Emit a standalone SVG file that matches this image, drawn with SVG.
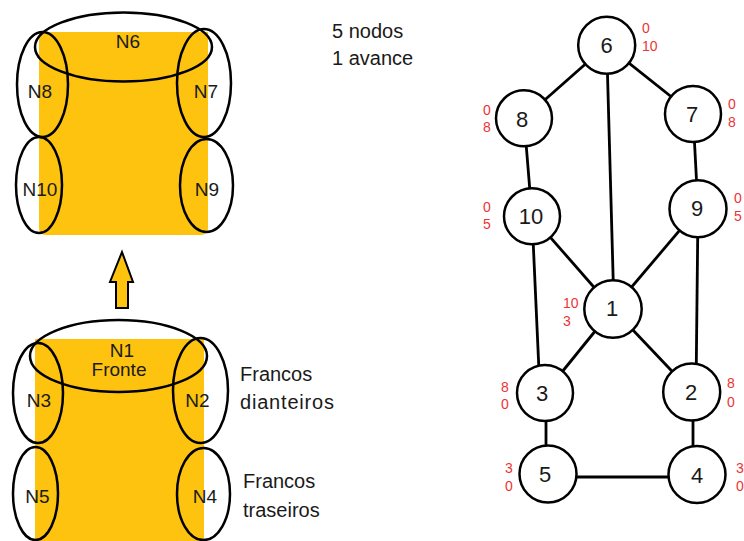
<svg xmlns="http://www.w3.org/2000/svg" width="744" height="541" viewBox="0 0 744 541">
<style>
.ell{fill:none;stroke:#000;stroke-width:2.5}
.lbl{font-family:"Liberation Sans",Arial,sans-serif;font-size:19px;fill:#1a1a1a;text-anchor:middle}
.txt{font-family:"Liberation Sans",Arial,sans-serif;font-size:20px;fill:#1a1a1a}
.gc{fill:#fff;stroke:#000;stroke-width:2.5}
.gl{font-family:"Liberation Sans",Arial,sans-serif;font-size:22px;fill:#1a1a1a;text-anchor:middle}
.ann{font-family:"Liberation Sans",Arial,sans-serif;font-size:14px;fill:#ee3333}
.edge{stroke:#000;stroke-width:2.8;fill:none}
.yel{fill:#fdc30f}
</style>
<rect width="744" height="541" fill="#fff"/>
<!-- top robot -->
<path class="yel" d="M39,32 H208 V228 Q208,235 201,235 H46 Q39,235 39,228 Z"/>
<g id="N6"><ellipse class="ell" cx="123.5" cy="47" rx="88.5" ry="34.5"/><text class="lbl" x="128" y="48">N6</text></g>
<g id="N8"><ellipse class="ell" cx="42.5" cy="84.5" rx="25.5" ry="52.5"/><text class="lbl" x="40" y="98">N8</text></g>
<g id="N7"><ellipse class="ell" cx="204" cy="83" rx="27" ry="54"/><text class="lbl" x="206" y="98">N7</text></g>
<g id="N10"><ellipse class="ell" cx="39" cy="185" rx="23" ry="48"/><text class="lbl" x="40" y="196">N10</text></g>
<g id="N9"><ellipse class="ell" cx="206.5" cy="185.5" rx="26.5" ry="46.5"/><text class="lbl" x="207" y="196">N9</text></g>
<!-- arrow -->
<path d="M122,252 L133,282 H128 V308 H116 V282 H110 Z" fill="#fdc30f" stroke="#000" stroke-width="2" stroke-linejoin="miter"/>
<!-- bottom robot -->
<path class="yel" d="M35,339 H204 V541 H35 Z"/>
<g id="N1"><ellipse class="ell" cx="118.5" cy="356" rx="88.5" ry="36"/><text class="lbl" x="122" y="357">N1</text><text class="lbl" x="119" y="376">Fronte</text></g>
<g id="N3"><ellipse class="ell" cx="38" cy="393" rx="25" ry="50"/><text class="lbl" x="39" y="407">N3</text></g>
<g id="N2"><ellipse class="ell" cx="200.5" cy="390.5" rx="27.5" ry="52.5"/><text class="lbl" x="197.5" y="407">N2</text></g>
<g id="N5"><ellipse class="ell" cx="35.5" cy="493.5" rx="22.5" ry="46.5"/><text class="lbl" x="37.5" y="503">N5</text></g>
<g id="N4"><ellipse class="ell" cx="203.5" cy="494" rx="26.5" ry="46"/><text class="lbl" x="205" y="503">N4</text></g>
<text class="txt" x="240" y="381">Francos</text>
<text class="txt" x="240" y="409" textLength="94">dianteiros</text>
<text class="txt" x="243" y="488">Francos</text>
<text class="txt" x="243" y="517">traseiros</text>
<text class="txt" x="332" y="38">5 nodos</text>
<text class="txt" x="332" y="65">1 avance</text>
<!-- graph -->
<g id="connectors">
<line class="edge" x1="606.7" y1="45.3" x2="524" y2="118.3"/>
<line class="edge" x1="606.7" y1="45.3" x2="693" y2="114"/>
<line class="edge" x1="606.7" y1="45.3" x2="614" y2="309"/>
<line class="edge" x1="524" y1="118.3" x2="532" y2="216.3"/>
<line class="edge" x1="693" y1="114" x2="698" y2="208.7"/>
<line class="edge" x1="532" y1="216.3" x2="613" y2="309"/>
<line class="edge" x1="698" y1="208.7" x2="613" y2="309"/>
<line class="edge" x1="532" y1="216.3" x2="540" y2="393"/>
<line class="edge" x1="698" y1="208.7" x2="696" y2="392"/>
<line class="edge" x1="613" y1="309" x2="545" y2="393"/>
<line class="edge" x1="613" y1="309" x2="691.7" y2="392"/>
<line class="edge" x1="546" y1="393" x2="546" y2="474"/>
<line class="edge" x1="693" y1="392" x2="693" y2="474.5"/>
<line class="edge" x1="548" y1="477" x2="697" y2="477"/>
</g>
<g id="g6"><circle class="gc" cx="606.7" cy="45.3" r="28.5"/><text class="gl" x="606.7" y="53">6</text><text class="ann" x="642" y="33">0</text><text class="ann" x="642" y="51">10</text></g>
<g id="g8"><circle class="gc" cx="524" cy="118.3" r="28"/><text class="gl" x="522" y="127">8</text><text class="ann" x="483" y="115">0</text><text class="ann" x="483" y="132">8</text></g>
<g id="g7"><circle class="gc" cx="693" cy="114" r="28"/><text class="gl" x="692" y="122">7</text><text class="ann" x="728" y="109">0</text><text class="ann" x="728" y="127">8</text></g>
<g id="g10"><circle class="gc" cx="532" cy="216.3" r="28"/><text class="gl" x="531" y="224">10</text><text class="ann" x="483" y="212">0</text><text class="ann" x="483" y="229">5</text></g>
<g id="g9"><circle class="gc" cx="698" cy="208.7" r="28.5"/><text class="gl" x="697" y="216">9</text><text class="ann" x="734" y="203">0</text><text class="ann" x="734" y="221">5</text></g>
<g id="g1"><circle class="gc" cx="613" cy="309" r="28.7"/><text class="gl" x="612" y="316">1</text><text class="ann" x="563" y="308">10</text><text class="ann" x="563" y="326">3</text></g>
<g id="g3"><circle class="gc" cx="545" cy="393" r="28"/><text class="gl" x="542" y="401">3</text><text class="ann" x="501" y="392">8</text><text class="ann" x="501" y="409">0</text></g>
<g id="g2"><circle class="gc" cx="691.7" cy="392" r="28.5"/><text class="gl" x="691" y="400">2</text><text class="ann" x="727" y="388">8</text><text class="ann" x="727" y="407">0</text></g>
<g id="g5"><circle class="gc" cx="548" cy="474" r="28.5"/><text class="gl" x="545" y="482">5</text><text class="ann" x="505" y="473">3</text><text class="ann" x="505" y="491">0</text></g>
<g id="g4"><circle class="gc" cx="697" cy="474.5" r="28.5"/><text class="gl" x="697" y="483">4</text><text class="ann" x="736" y="473">3</text><text class="ann" x="736" y="491">0</text></g>
</svg>
